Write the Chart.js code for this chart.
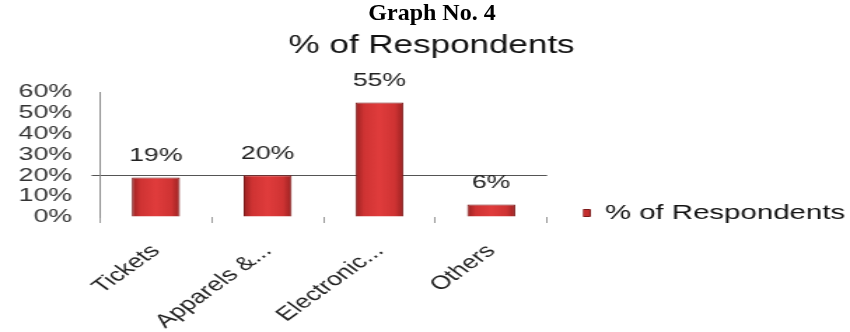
<!DOCTYPE html>
<html>
<head>
<meta charset="utf-8">
<script src="https://cdn.jsdelivr.net/npm/chart.js@4/dist/chart.umd.min.js"></script>
<style>
  html, body { margin: 0; padding: 0; background: #fff; }
  #wrap { position: relative; width: 850px; height: 332px; overflow: hidden; }
  #caption {
    position: absolute; left: 0; top: 0; width: 864px; text-align: center;
    font: bold 24px "Liberation Serif", "Times New Roman", serif; line-height: 24px; color: #000;
  }
  #c { position: absolute; left: 0; top: 0; }
</style>
</head>
<body>
<div id="wrap">
  <canvas id="c" width="607" height="332" style="width:850px;height:332px"></canvas>
  <div id="caption">Graph No. 4</div>
</div>
<script>
const categories = ['Tickets', 'Apparels &...', 'Electronic...', 'Others'];
const respondents = [19, 20, 55, 6];
const seriesName = '% of Respondents';
const yMax = 60;
const yStep = 10;

const font = '"Liberation Sans", Arial, sans-serif';
const barPct = 0.43;

// shaded red like the original's bevelled bars
const barFill = c => {
    const xs = c.chart.scales.x;
    if (!xs || !xs.width) return '#d23535';
    const cx = xs.getPixelForValue(c.dataIndex);
    const half = xs.width / categories.length * barPct / 2;
    const g = c.chart.ctx.createLinearGradient(cx - half, 0, cx + half, 0);
    g.addColorStop(0, '#9a2222');
    g.addColorStop(0.18, '#cf3333');
    g.addColorStop(0.5, '#e03c3c');
    g.addColorStop(0.82, '#cf3333');
    g.addColorStop(1, '#9a2222');
    return g;
};

// percent labels above each bar
const barLabels = {
    id: 'barLabels',
    afterDatasetsDraw(chart) {
        const ctx = chart.ctx;
        const meta = chart.getDatasetMeta(0);
        ctx.save();
        ctx.font = '19px ' + font;
        ctx.fillStyle = '#222';
        ctx.textAlign = 'center';
        ctx.textBaseline = 'middle';
        meta.data.forEach((bar, i) => {
            ctx.fillText(respondents[i] + '%', bar.x, bar.y - 22);
        });
        ctx.restore();
    }
};

// the legend sits a little below the plot bottom in the original
const legendNudge = {
    id: 'legendNudge',
    afterLayout(chart) {
        chart.legend.top += 6.5;
        chart.legend.bottom += 6.5;
    }
};

new Chart(document.getElementById('c'), {
    type: 'bar',
    data: {
        labels: categories,
        datasets: [{
            label: seriesName,
            data: respondents,
            backgroundColor: barFill,
            borderColor: '#7d1a1a',
            borderWidth: 1,
            barPercentage: barPct,
            categoryPercentage: 1
        }]
    },
    options: {
        responsive: false,
        animation: false,
        devicePixelRatio: 1,
        layout: { padding: { left: 10, right: 0.6, top: 0, bottom: 0 } },
        plugins: {
            title: {
                display: true,
                text: seriesName,
                color: '#111',
                font: { family: font, size: 25, weight: 'normal' },
                padding: { top: 31, bottom: 31 }
            },
            legend: {
                position: 'right',
                align: 'end',
                fullSize: false,
                maxWidth: 190,
                labels: {
                    boxWidth: 5,
                    boxHeight: 7,
                    color: '#111',
                    padding: 0,
                    font: { family: font, size: 21 },
                    generateLabels: chart => [{
                        text: seriesName,
                        fillStyle: '#c42e2e',
                        strokeStyle: '#7d1a1a',
                        lineWidth: 1,
                        fontColor: '#111',
                        datasetIndex: 0
                    }]
                }
            },
            tooltip: { enabled: false }
        },
        scales: {
            x: {
                grid: { drawOnChartArea: false, drawTicks: true, tickLength: 6, color: '#999' },
                border: { display: false },
                ticks: {
                    color: '#222',
                    font: { family: font, size: 19 },
                    minRotation: 45,
                    maxRotation: 45,
                    padding: 17
                },
                afterFit: s => { s.height = 115; }
            },
            y: {
                min: 0,
                max: yMax,
                grid: {
                    drawTicks: true,
                    tickLength: 6,
                    color: c => c.tick && c.tick.value === 20 ? '#555' : 'rgba(0,0,0,0)'
                },
                border: { display: true, color: '#888' },
                ticks: {
                    stepSize: yStep,
                    autoSkip: false,
                    color: '#333',
                    padding: 14,
                    font: { family: font, size: 19 },
                    callback: v => v + '%'
                },
                afterFit: s => { s.width = 61.4; }
            },
            // empty axis that only keeps the legend clear of the plot
            gap: {
                type: 'linear',
                position: 'right',
                grid: { display: false },
                border: { display: false },
                ticks: { display: false },
                afterFit: s => { s.width = 25.7; }
            }
        }
    },
    plugins: [barLabels, legendNudge]
});
</script>
</body>
</html>
